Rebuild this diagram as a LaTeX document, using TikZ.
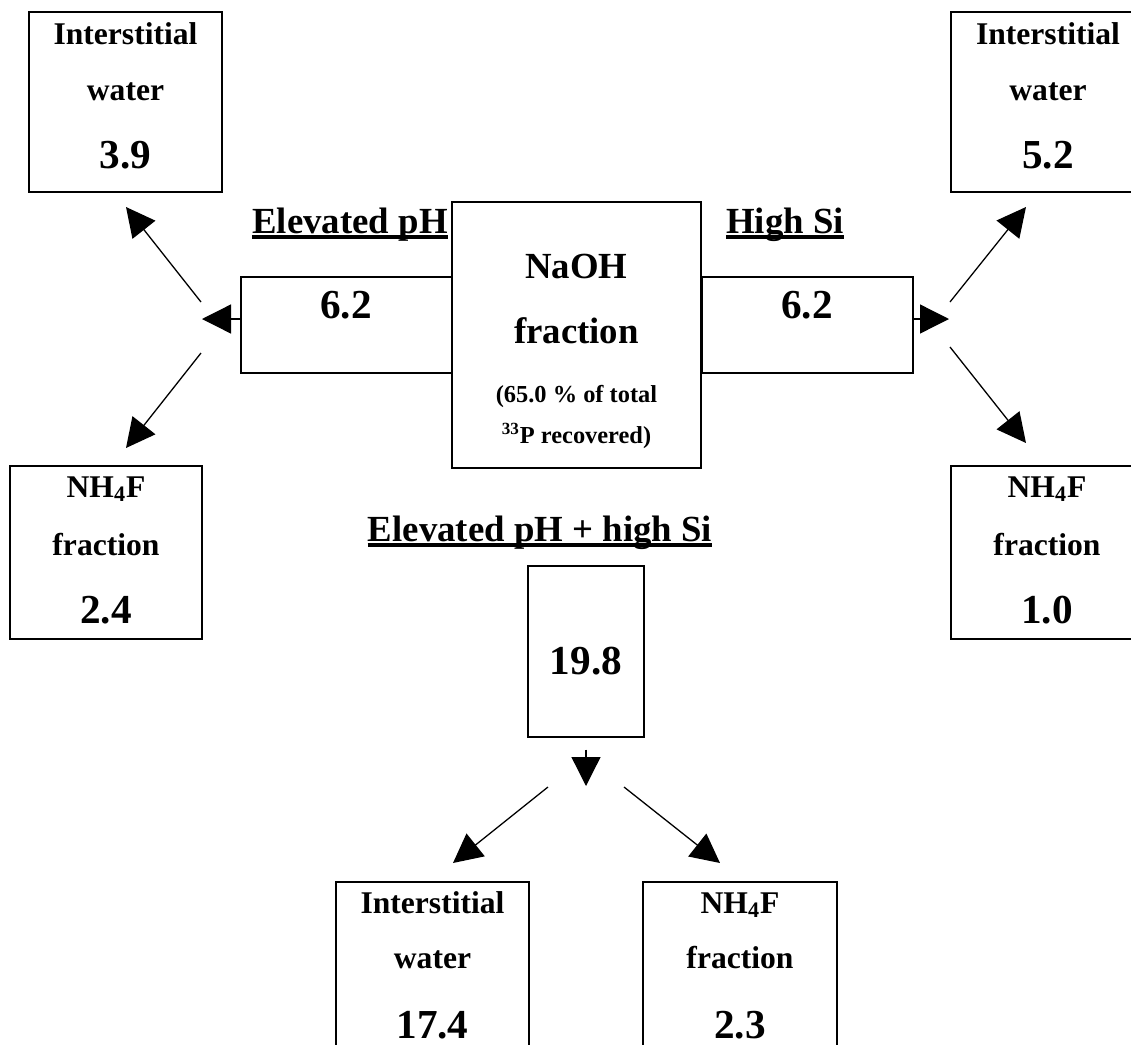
\documentclass[tikz,border=0pt]{standalone}
\usepackage{fontspec}
\setmainfont{Liberation Serif}
\usetikzlibrary{arrows.meta,fit}

\tikzset{
  box/.style={draw,line width=0.6pt,inner sep=0pt},
  lbl/.style={anchor=base,inner sep=0pt,font=\fontsize{15.8}{18}\selectfont\bfseries},
  num/.style={anchor=base,inner sep=0pt,font=\fontsize{20.6}{24}\selectfont\bfseries},
  head/.style={anchor=base,inner sep=0pt,font=\fontsize{18.4}{22}\selectfont\bfseries},
  note/.style={anchor=base,inner sep=0pt,font=\fontsize{12.2}{14}\selectfont\bfseries},
  arr/.style={line width=0.65pt,-{Triangle[length=14.5pt,width=14.5pt]}},
  uline/.style={line width=1.8pt}
}

\begin{document}
\begin{tikzpicture}[x=0.5pt,y=-0.5pt]
    \useasboundingbox (0,0) rectangle (1131,1045);
    \clip (0,0) rectangle (1131,1045);

    \node[box,fit={(29,12) (222,192)}] (iwL) {};
    \node[box,fit={(951,12) (1145,192)}] (iwR) {};
    \node[box,fit={(10,466) (202,639)}] (nfL) {};
    \node[box,fit={(951,466) (1143,639)}] (nfR) {};
    \node[box,fit={(452,202) (701,468)}] (naoh) {};
    \node[box,fit={(241,277) (452,373)}] (barL) {};
    \node[box,fit={(702,277) (913,373)}] (barR) {};
    \node[box,fit={(528,566) (644,737)}] (barB) {};
    \node[box,fit={(336,882) (529,1060)}] (iwB) {};
    \node[box,fit={(643,882) (837,1060)}] (nfB) {};

    \node[lbl] (iwLa) at (125.5,44) {Interstitial};
    \node[lbl] (iwLb) at (125.5,100) {water};
    \node[num] (iwLc) at (125.5,168) {3.9};

    \node[lbl] (iwRa) at (1048,44) {Interstitial};
    \node[lbl] (iwRb) at (1048,100) {water};
    \node[num] (iwRc) at (1048,168) {5.2};

    \node[lbl] (nfLa) at (106,497) {NH\textsubscript{4}F};
    \node[lbl] (nfLb) at (106,555) {fraction};
    \node[num] (nfLc) at (106,623) {2.4};

    \node[lbl] (nfRa) at (1047,497) {NH\textsubscript{4}F};
    \node[lbl] (nfRb) at (1047,555) {fraction};
    \node[num] (nfRc) at (1047,623) {1.0};

    \node[head] (naohA) at (576.5,278) {NaOH};
    \node[head] (naohB) at (576.5,343) {fraction};
    \node[note] (naohC) at (576.5,402) {(65.0 \% of total};
    \node[note] (naohD) at (576.5,443) {\textsuperscript{33}P recovered)};

    \node[num] (barLv) at (346,318) {6.2};
    \node[num] (barRv) at (807,318) {6.2};
    \node[num] (barBv) at (586,674) {19.8};

    \node[lbl] (iwBa) at (432.5,913) {Interstitial};
    \node[lbl] (iwBb) at (432.5,968) {water};
    \node[num] (iwBc) at (432.5,1038) {17.4};

    \node[lbl] (nfBa) at (740,913) {NH\textsubscript{4}F};
    \node[lbl] (nfBb) at (740,968) {fraction};
    \node[num] (nfBc) at (740,1038) {2.3};

    \node[head] (pH) at (350,233) {Elevated pH};
    \node[head] (Si) at (785,233) {High Si};
    \node[head] (pHSi) at (540,541) {Elevated pH + high Si};
    \draw[uline] ([yshift=-2pt]pH.base west) -- ([yshift=-2pt]pH.base east);
    \draw[uline] ([yshift=-2pt]Si.base west) -- ([yshift=-2pt]Si.base east);
    \draw[uline] ([yshift=-2pt]pHSi.base west) -- ([yshift=-2pt]pHSi.base east);

    \coordinate (forkL) at (202,319);
    \coordinate (upL) at (201,302);
    \coordinate (dnL) at (201,353);
    \coordinate (forkR) at (949,319);
    \coordinate (upR) at (950,302);
    \coordinate (dnR) at (950,347);
    \coordinate (forkB) at (586,786);
    \coordinate (lfB) at (548,787);
    \coordinate (rtB) at (624,787);

    \draw[arr] (barL.west |- forkL) -- (forkL);
    \draw[arr] (upL) -- (126,207);
    \draw[arr] (dnL) -- (126,448);

    \draw[arr] (barR.east |- forkR) -- (forkR);
    \draw[arr] (upR) -- (1026,207);
    \draw[arr] (dnR) -- (1026,443);

    \draw[arr,shorten <=6pt] (barB.south) -- (forkB);
    \draw[arr] (lfB) -- (453,863);
    \draw[arr] (rtB) -- (720,863);
\end{tikzpicture}
\end{document}
